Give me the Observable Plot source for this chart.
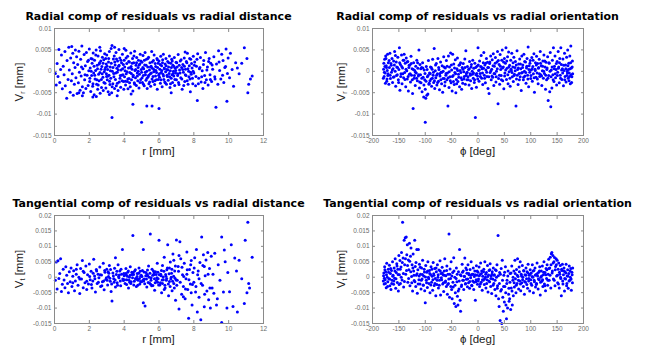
<!DOCTYPE html>
<html><head><meta charset="utf-8">
<script src="https://cdn.jsdelivr.net/npm/d3@7"></script>
<script src="https://cdn.jsdelivr.net/npm/@observablehq/plot@0.6"></script>
<style>
body{margin:0;background:#fff;}
#wrap{position:relative;width:645px;height:346px;overflow:hidden;font-family:"Liberation Sans",Arial,sans-serif;}
.panel{position:absolute;}
.title{position:absolute;font-family:"DejaVu Sans",sans-serif;font-weight:bold;font-size:11px;line-height:11px;color:#000;white-space:nowrap;transform:translateX(-50%);}
.xlab{position:absolute;font-size:11.5px;line-height:12px;color:#222;white-space:nowrap;transform:translate(-50%,-50%);}
.ylab{position:absolute;font-size:11.5px;line-height:12px;color:#222;white-space:nowrap;transform:translate(-50%,-50%) rotate(-90deg);}
.ylab sub{font-size:7px;vertical-align:-2px;}
</style>
</head><body>
<div id="wrap"></div>
<script>
// ---- data: [x, residual in µm] ----
const radialVsDistance = [
[0.05,-0.5],[0.1,-3.2],[0.15,1.8],[0.2,-1.2],[0.25,5.1],[0.3,-2.6],[0.35,0.4],[0.4,3.8],[0.45,-4.1],[0.5,1.2],[0.55,-0.8],[0.6,4.6],[0.62,-3.4],[0.7,-6.3],[0.72,2.5],[0.78,-1.9],[0.82,5.6],[0.85,0.3],[0.9,-4.9],[0.93,3.1],[0.97,-2.2],[0.99,5.8],
[1.02,-0.6],[1.05,4.2],[1.08,-5.6],[1.1,2.0],[1.14,-3.0],[1.18,0.9],[1.2,5.0],[1.23,-1.5],[1.27,3.4],[1.3,-5.2],[1.33,1.6],[1.37,-2.7],[1.4,4.7],[1.43,-0.2],[1.47,-4.4],[1.5,2.8],[1.53,-1.1],[1.57,5.9],[1.6,-3.6],[1.63,0.6],[1.66,-5.0],[1.7,3.9],[1.73,-2.0],[1.77,1.3],[1.8,-4.0],[1.83,4.4],[1.87,-0.9],[1.9,2.3],[1.93,-3.3],[1.97,0.1],
[2.0,5.2],[2.02,-2.4],[2.05,0.8],[2.08,-4.7],[2.1,3.0],[2.13,-1.0],[2.16,1.9],[2.19,-3.5],[2.22,4.3],[2.25,-0.4],[2.28,-5.5],[2.3,2.6],[2.33,-1.8],[2.36,0.2],[2.39,5.0],[2.42,-3.0],[2.45,1.4],[2.48,-4.2],[2.5,3.6],[2.53,-0.7],[2.56,-2.2],[2.59,2.0],[2.62,-5.1],[2.64,4.8],[2.67,0.5],[2.7,-3.8],[2.72,1.1],[2.75,3.3],[2.78,-1.4],[2.8,-4.5],[2.83,2.7],[2.86,-0.1],[2.88,4.1],[2.9,-2.8],[2.93,0.9],[2.95,-3.9],[2.97,1.7],[2.99,-1.2],[2.4,-5.9],[2.6,5.6],
[3.0,3.8],[3.03,-2.0],[3.05,0.4],[3.08,-4.8],[3.1,2.2],[3.13,-0.9],[3.15,4.6],[3.18,-3.1],[3.2,1.0],[3.23,-1.6],[3.25,5.3],[3.28,-5.0],[3.3,6.0],[3.32,0.0],[3.35,-2.9],[3.38,2.9],[3.4,-0.5],[3.43,3.6],[3.45,-4.0],[3.48,1.5],[3.5,-1.9],[3.53,4.4],[3.55,-3.4],[3.58,0.7],[3.6,-0.2],[3.62,2.4],[3.65,-4.5],[3.68,1.2],[3.7,5.1],[3.72,-2.5],[3.75,3.1],[3.78,-1.0],[3.8,-3.7],[3.82,0.3],[3.85,2.0],[3.88,-2.2],[3.9,4.0],[3.93,-0.8],[3.95,1.6],[3.98,-4.2],[3.45,5.6],[3.15,-5.4],
[4.0,2.6],[4.02,-1.3],[4.05,0.1],[4.08,-3.2],[4.1,4.9],[4.12,-0.6],[4.15,1.8],[4.18,-2.4],[4.2,3.5],[4.22,-4.1],[4.25,0.8],[4.28,-1.7],[4.3,2.2],[4.32,-0.3],[4.35,-3.6],[4.38,4.3],[4.4,1.1],[4.42,-2.0],[4.45,0.5],[4.48,3.0],[4.5,-4.6],[4.52,-0.9],[4.55,2.0],[4.58,-2.7],[4.6,4.7],[4.62,0.2],[4.65,-1.5],[4.68,1.4],[4.7,-3.3],[4.72,3.2],[4.75,-0.4],[4.78,-2.2],[4.8,0.9],[4.82,2.6],[4.85,-3.9],[4.88,-0.7],[4.9,1.7],[4.92,4.0],[4.95,-1.9],[4.98,0.4],[4.0,5.3],[4.4,-5.3],
[5.0,-0.2],[5.02,2.1],[5.05,-2.6],[5.08,3.7],[5.1,-1.0],[5.12,0.6],[5.15,-3.4],[5.18,1.5],[5.2,4.4],[5.22,-0.8],[5.25,-2.1],[5.28,2.8],[5.3,0.0],[5.32,-4.0],[5.35,1.0],[5.38,-1.3],[5.4,3.3],[5.42,-2.9],[5.45,0.3],[5.48,2.0],[5.5,-0.6],[5.52,-3.5],[5.55,1.2],[5.58,4.6],[5.6,-1.8],[5.62,0.7],[5.65,-2.4],[5.68,2.5],[5.7,-0.1],[5.72,3.8],[5.75,-3.1],[5.78,1.8],[5.8,-1.1],[5.82,0.2],[5.85,-2.0],[5.88,3.0],[5.9,-4.2],[5.92,0.9],[5.95,1.9],[5.98,-0.9],
[6.0,2.4],[6.03,-1.4],[6.05,0.5],[6.08,-2.8],[6.1,3.5],[6.13,-0.3],[6.15,1.3],[6.18,-3.6],[6.2,2.0],[6.23,-0.7],[6.25,4.0],[6.28,-1.9],[6.3,0.8],[6.33,-2.5],[6.35,1.7],[6.38,-0.1],[6.4,3.0],[6.43,-3.0],[6.45,0.4],[6.48,-1.2],[6.5,2.3],[6.53,-2.1],[6.55,1.0],[6.58,-0.5],[6.6,3.6],[6.63,-3.8],[6.65,0.1],[6.68,1.9],[6.7,-1.6],[6.73,2.8],[6.75,-0.8],[6.78,-2.6],[6.8,1.4],[6.83,0.0],[6.85,-1.1],[6.88,3.2],[6.9,-3.3],[6.93,0.7],[6.95,-0.4],[6.98,2.1],
[7.0,-2.0],[7.04,1.0],[7.08,-0.6],[7.1,3.9],[7.15,-3.1],[7.18,0.3],[7.22,2.4],[7.25,-1.5],[7.3,0.9],[7.33,-4.2],[7.37,1.6],[7.4,-0.2],[7.45,3.1],[7.48,-2.4],[7.52,0.5],[7.55,-1.0],[7.6,2.0],[7.63,4.2],[7.67,-3.0],[7.7,0.0],[7.74,1.3],[7.78,-1.8],[7.82,2.8],[7.85,-0.7],[7.9,0.8],[7.94,-2.9],[7.97,3.5],[7.5,4.5],
[8.0,-0.4],[8.05,2.2],[8.1,-3.4],[8.15,1.2],[8.2,-6.8],[8.22,4.1],[8.28,-1.6],[8.32,0.6],[8.38,3.2],[8.42,-2.5],[8.48,0.1],[8.52,-4.0],[8.57,2.5],[8.62,-1.0],[8.67,4.4],[8.72,-2.0],[8.78,1.0],[8.82,-3.2],[8.88,3.0],[8.93,-0.8],[8.97,1.9],
[9.02,-2.4],[9.08,0.5],[9.15,3.4],[9.2,-1.3],[9.27,-8.4],[9.3,1.7],[9.38,-3.0],[9.42,4.8],[9.48,0.2],[9.55,-1.8],[9.6,4.0],[9.68,2.5],[9.72,-2.6],[9.78,0.9],[9.85,5.2],[9.9,-7.0],[9.93,-0.5],[9.97,3.1],
[10.05,-1.5],[10.1,4.2],[10.2,0.4],[10.28,-3.5],[10.4,2.0],[10.5,0.8],[10.6,-0.6],[10.9,5.5],[11.05,3.0],[11.1,-5.0],[11.15,-3.0],[11.25,-1.8],[11.35,-1.1],[10.75,1.9],
[3.3,-10.8],[5.0,-11.9],[4.5,-7.7],[5.3,-8.1],[5.6,-8.1],[6.0,-8.7],[1.6,-5.7],[2.2,-6.0],[3.6,-5.7],[6.7,-5.0],[7.8,-4.8],[1.4,-5.0],
[1.55,1.0],[1.75,-0.8],[1.95,2.6],[2.03,-1.6],[2.11,0.0],[2.17,2.9],[2.21,-2.9],[2.27,1.2],[2.31,-0.9],[2.37,3.8],[2.43,-2.0],[2.47,0.6],[2.51,-3.2],[2.57,1.7],[2.61,-0.3],[2.66,2.4],[2.69,-1.9],[2.74,-0.6],[2.79,1.9],[2.84,-2.6],[2.89,0.4],[2.94,3.0],[2.98,-0.6],
[3.02,1.2],[3.07,-1.1],[3.11,3.0],[3.16,-2.3],[3.21,0.1],[3.26,1.9],[3.31,-3.6],[3.36,0.9],[3.41,-1.3],[3.46,2.2],[3.51,-0.4],[3.56,2.9],[3.61,-2.8],[3.66,0.3],[3.71,1.4],[3.76,-1.6],[3.81,2.6],[3.86,-0.9],[3.91,0.6],[3.96,-2.4],
[4.03,1.0],[4.07,-2.3],[4.11,3.1],[4.16,-0.1],[4.21,-1.8],[4.26,2.3],[4.31,-2.7],[4.36,0.9],[4.41,-0.5],[4.46,1.9],[4.51,-1.3],[4.56,3.6],[4.61,-3.0],[4.66,0.4],[4.71,2.0],[4.76,-1.1],[4.81,0.0],[4.86,1.5],[4.91,-2.6],[4.96,2.4],
[5.03,-1.5],[5.07,0.9],[5.11,-3.0],[5.16,2.6],[5.21,-0.2],[5.26,1.4],[5.31,-1.6],[5.36,3.0],[5.41,-0.9],[5.46,-2.5],[5.51,1.0],[5.56,-0.4],[5.61,2.2],[5.66,-1.2],[5.71,0.4],[5.76,-2.2],[5.81,1.1],[5.86,-0.3],[5.91,2.7],[5.96,-1.9],
[6.02,-0.6],[6.07,1.6],[6.11,-2.0],[6.16,0.2],[6.21,2.7],[6.26,-1.1],[6.31,0.6],[6.36,-2.7],[6.41,1.3],[6.46,-0.9],[6.51,0.3],[6.56,2.0],[6.61,-1.3],[6.66,-2.9],[6.71,0.9],[6.76,2.4],[6.81,-0.5],[6.86,1.1],[6.91,-1.9],[6.96,0.2],
[7.02,2.0],[7.07,-1.0],[7.12,-2.6],[7.16,1.4],[7.21,-0.4],[7.27,2.7],[7.31,-1.8],[7.36,0.4],[7.42,-3.3],[7.46,1.2],[7.51,-0.8],[7.57,2.3],[7.62,-2.2],[7.66,0.6],[7.72,-1.3],[7.76,3.0],[7.81,-0.2],[7.87,1.8],[7.92,-1.6],[7.96,0.0],
[8.03,1.4],[8.12,-1.2],[8.18,2.8],[8.26,-2.9],[8.35,0.9],[8.45,-1.3],[8.55,1.6],[8.64,-2.6],[8.75,0.3],[8.85,2.3],[8.95,-1.9],[9.05,1.5],[9.22,-1.8],[9.45,2.2],[9.65,-0.9],[9.82,1.1]
];
const radialVsOrientation = [
[-179,0.5],[-178,-1.2],[-177,2.8],[-176,-0.4],[-175,3.6],[-174,1.3],[-173,-2.3],[-172,0.2],[-171,-1.0],[-170,2.0],
[-169,-3.0],[-168,0.9],[-167,4.2],[-166,-1.7],[-165,1.8],[-164,-0.2],[-163,3.0],[-162,-2.6],[-161,0.6],[-160,2.4],
[-159,-1.3],[-158,4.6],[-157,0.0],[-156,-3.5],[-155,2.2],[-154,1.0],[-153,-0.8],[-152,3.3],[-151,-2.0],[-150,0.4],
[-149,5.5],[-148,-4.4],[-147,1.6],[-146,-0.6],[-145,3.8],[-144,-2.9],[-143,0.8],[-142,2.6],[-141,-1.5],[-140,4.0],
[-139,-0.3],[-138,1.9],[-137,-3.6],[-136,3.1],[-135,0.1],[-134,-1.8],[-133,2.3],[-132,-4.6],[-131,0.9],[-130,-0.7],
[-129,1.5],[-128,-2.5],[-127,3.5],[-126,-0.9],[-125,0.6],[-124,-5.2],[-123,-8.7],[-122,2.0],[-121,-1.6],[-120,0.2],
[-119,-3.3],[-118,1.2],[-117,-0.4],[-116,2.6],[-115,-2.2],[-114,0.7],[-113,-1.1],[-112,5.0],[-111,-3.9],[-110,1.6],
[-109,-0.8],[-108,-2.7],[-107,0.9],[-106,-4.8],[-105,2.0],[-104,-1.4],[-103,-6.0],[-102,0.3],[-101,-2.0],[-100,-11.9],[-100,-4.2],
[-99,-6.3],[-98,1.1],[-97,-5.6],[-96,-1.3],[-95,-5.3],[-94,2.5],[-93,-3.0],[-92,-0.4],[-91,-2.2],[-90,1.0],
[-89,-1.8],[-88,-3.5],[-87,0.5],[-86,2.8],[-85,-0.9],[-84,-2.6],[-83,5.3],[-82,-4.0],[-81,0.1],[-80,-1.5],
[-79,1.8],[-78,-3.2],[-77,-0.6],[-76,3.0],[-75,-2.3],[-74,0.4],[-73,-4.3],[-72,-1.1],[-71,2.2],[-70,-0.2],
[-69,-2.9],[-68,1.3],[-67,-4.9],[-66,0.0],[-65,3.4],[-64,-1.7],[-63,-3.4],[-62,0.8],[-61,-0.9],[-60,2.5],
[-59,-2.0],[-58,-0.4],[-57,-8.1],[-56,3.6],[-55,-3.8],[-54,1.0],[-53,-1.3],[-52,4.3],[-51,-2.7],[-50,0.3],
[-49,-4.6],[-48,4.0],[-47,-1.0],[-46,1.7],[-45,-3.1],[-44,-0.3],[-43,2.7],[-42,-5.0],[-41,-1.9],[-40,0.6],
[-39,3.1],[-38,-2.4],[-37,-0.7],[-36,1.4],[-35,-3.6],[-34,0.2],[-33,2.0],[-32,-1.5],[-31,-4.2],[-30,0.9],
[-29,-2.8],[-28,1.8],[-27,-0.1],[-26,-1.2],[-25,2.9],[-24,-3.0],[-23,4.8],[-22,-0.5],[-21,-2.0],[-20,1.1],
[-19,-1.3],[-18,0.4],[-17,-3.2],[-16,2.3],[-15,-0.6],[-14,-2.2],[-13,1.0],[-12,-4.0],[-11,0.0],[-10,2.6],
[-9,-1.6],[-8,0.7],[-7,-2.6],[-6,1.9],[-5,-10.8],[-4,-0.8],[-3,-3.7],[-2,1.2],[-1,-1.1],[0,5.5],
[1,0.2],[2,-2.3],[3,2.4],[4,-0.5],[5,1.1],[6,3.7],[7,-1.6],[8,0.6],[9,-3.1],[10,2.0],
[11,4.4],[12,-0.9],[13,1.5],[14,-2.7],[15,0.3],[16,3.0],[17,-1.2],[18,2.1],[19,-4.0],[20,0.9],
[21,-5.2],[22,1.8],[23,-0.3],[24,3.6],[25,-2.0],[26,0.5],[27,2.7],[28,-1.4],[29,4.1],[30,-3.3],
[31,1.2],[32,-0.6],[33,3.2],[34,-2.5],[35,0.0],[36,2.2],[37,4.6],[38,-7.6],[39,-1.7],[40,1.6],
[41,-3.0],[42,3.9],[43,0.4],[44,-1.0],[45,2.6],[46,5.0],[47,-2.2],[48,1.0],[49,-4.1],[50,3.0],
[51,-0.4],[52,1.9],[53,5.5],[54,-1.9],[55,0.7],[56,3.4],[57,-2.9],[58,4.5],[59,-0.1],[60,1.4],
[61,-3.5],[62,2.6],[63,0.2],[64,4.2],[65,-1.3],[66,1.0],[67,-2.4],[68,3.3],[69,-0.7],[70,0.9],
[71,2.3],[72,-8.1],[73,-1.8],[74,4.8],[75,0.4],[76,-3.1],[77,1.7],[78,-0.5],[79,2.9],[80,-1.3],
[81,0.6],[82,-4.5],[83,3.6],[84,-0.3],[85,1.5],[86,-2.0],[87,4.0],[88,0.0],[89,-1.1],[90,2.2],
[91,-2.8],[92,0.8],[93,3.0],[94,-0.9],[95,5.7],[96,-3.6],[97,1.3],[98,-0.2],[99,2.5],[100,-1.7],
[101,0.3],[102,3.2],[103,-2.3],[104,1.1],[105,-0.6],[106,4.1],[107,-4.9],[108,0.5],[109,2.0],[110,-1.4],
[111,3.5],[112,-0.4],[113,1.8],[114,-2.9],[115,0.9],[116,2.8],[117,-1.2],[118,4.6],[119,-0.8],[120,1.3],
[121,-3.3],[122,0.1],[123,2.4],[124,-1.6],[125,3.8],[126,-0.5],[127,1.0],[128,-4.2],[129,2.1],[130,-2.0],
[131,0.8],[132,3.4],[133,-6.8],[134,-1.0],[135,1.9],[136,-4.8],[137,4.4],[138,-8.3],[139,0.3],[140,-3.9],
[141,2.6],[142,-0.8],[143,5.5],[144,-2.4],[145,1.2],[146,3.6],[147,-1.5],[148,0.4],[149,-3.2],[150,2.3],
[151,-0.2],[152,4.6],[153,1.0],[154,-2.7],[155,3.0],[156,-0.9],[157,5.5],[158,1.6],[159,-1.9],[160,0.6],
[161,2.9],[162,-3.4],[163,0.2],[164,4.2],[165,-1.2],[166,1.5],[167,-2.5],[168,3.3],[169,0.0],[170,5.0],
[171,-1.6],[172,1.9],[173,-0.4],[174,3.6],[175,-2.9],[176,5.9],[177,0.8],[178,-1.3],[179,2.4],[179.5,-0.6],
[-179.5,-1.6],[-178.5,1.9],[-177.5,-0.2],[-176.5,1.1],[-175.5,-2.8],[-174.5,3.0],[-173.5,0.9],[-172.5,-1.8],[-171.5,4.0],[-170.5,-0.6],
[-168.5,2.5],[-166.5,-0.9],[-164.5,1.4],[-162.5,0.3],[-160.5,-1.4],[-158.5,1.5],[-156.5,3.7],[-154.5,-1.0],[-152.5,0.9],[-150.5,-2.6],
[-148.5,2.0],[-146.5,-1.2],[-144.5,1.1],[-142.5,-0.6],[-140.5,2.6],[-138.5,-1.9],[-136.5,0.5],[-134.5,2.2],[-132.5,-1.2],[-130.5,1.4],
[-128.5,-0.6],[-126.5,1.8],[-124.5,-2.0],[-122.5,0.4],[-120.5,-1.0],[-118.5,-0.2],[-116.5,-1.6],[-114.5,2.0],[-112.5,-0.8],[-110.5,-2.5],
[-108.5,0.6],[-106.5,-1.6],[-104.5,0.8],[-102.5,-3.2],[-100.5,-0.5],[-98.5,-2.3],[-96.5,0.4],[-94.5,-1.0],[-92.5,-2.8],[-90.5,-0.6],
[-88.5,0.9],[-86.5,-1.6],[-84.5,-0.2],[-82.5,-2.2],[-80.5,1.5],[-78.5,-0.9],[-76.5,-2.6],[-74.5,0.9],[-72.5,-0.6],[-70.5,-2.0],
[-68.5,-0.2],[-66.5,-1.7],[-64.5,1.0],[-62.5,-2.5],[-60.5,-0.5],[-58.5,1.2],[-56.5,-1.5],[-54.5,-0.1],[-52.5,-2.2],[-50.5,1.5],
[-48.5,-1.2],[-46.5,-2.4],[-44.5,0.8],[-42.5,-0.6],[-40.5,-2.9],[-38.5,0.2],[-36.5,-1.4],[-34.5,1.6],[-32.5,-0.3],[-30.5,-2.0],
[-28.5,0.5],[-26.5,-1.8],[-24.5,0.9],[-22.5,-1.0],[-20.5,-0.2],[-18.5,-2.0],[-16.5,0.6],[-14.5,-0.9],[-12.5,1.6],[-10.5,-0.7],
[-8.5,-0.4],[-6.5,-2.0],[-4.5,0.9],[-2.5,-0.5],[-0.5,-1.8],[0.5,1.5],[2.5,0.3],[4.5,-1.2],[6.5,1.0],[8.5,-0.4],
[10.5,0.7],[12.5,-1.6],[14.5,1.9],[16.5,-0.2],[18.5,0.9],[20.5,-1.3],[22.5,2.2],[24.5,0.1],[26.5,-1.1],[28.5,1.3],
[30.5,-0.5],[32.5,1.9],[34.5,-1.3],[36.5,0.6],[38.5,2.5],[40.5,-0.9],[42.5,1.2],[44.5,-2.0],[46.5,0.8],[48.5,2.2],
[50.5,-1.1],[52.5,0.3],[54.5,2.4],[56.5,-0.8],[58.5,1.0],[60.5,-1.6],[62.5,0.5],[64.5,-0.3],[66.5,2.0],[68.5,-1.0],
[70.5,0.1],[72.5,1.5],[74.5,-0.9],[76.5,0.8],[78.5,-2.0],[80.5,1.7],[82.5,-0.4],[84.5,0.9],[86.5,-1.4],[88.5,2.3],
[90.5,-0.3],[92.5,1.2],[94.5,-1.8],[96.5,0.4],[98.5,1.9],[100.5,-1.0],[102.5,0.6],[104.5,2.6],[106.5,-1.5],[108.5,0.2],
[110.5,1.5],[112.5,-1.8],[114.5,0.7],[116.5,-0.6],[118.5,1.9],[120.5,-1.1],[122.5,1.2],[124.5,0.0],[126.5,2.4],[128.5,-0.9],
[130.5,0.4],[132.5,-1.6],[134.5,2.0],[136.5,0.0],[138.5,-1.3],[140.5,1.0],[142.5,-2.0],[144.5,0.6],[146.5,-0.6],[148.5,1.8],
[150.5,-1.0],[152.5,0.7],[154.5,2.0],[156.5,-1.6],[158.5,0.3],[160.5,-0.4],[162.5,1.4],[164.5,-2.0],[166.5,0.6],[168.5,-1.0],
[170.5,1.3],[172.5,-2.2],[174.5,0.6],[176.5,-0.8],[178.5,1.0],[177.5,-2.6],[175.5,2.0],[173.5,-1.2],[171.5,0.4],[169.5,-0.4]
];
const tangentialVsDistance = [
[0.05,-1.0],[0.1,4.9],[0.15,-3.8],[0.2,5.3],[0.25,-0.4],[0.3,1.2],[0.35,6.0],[0.4,-4.6],[0.45,-2.3],[0.5,2.6],[0.55,-0.9],[0.6,-3.4],[0.65,3.4],[0.7,0.6],[0.75,-2.0],[0.8,-5.0],[0.85,1.8],[0.9,-1.5],[0.95,3.0],
[1.0,-3.0],[1.05,0.3],[1.1,2.1],[1.15,-4.4],[1.2,-1.2],[1.25,1.0],[1.3,4.0],[1.35,-2.6],[1.4,0.0],[1.45,-5.3],[1.5,2.8],[1.55,-0.6],[1.6,5.4],[1.65,-3.4],[1.7,1.5],[1.75,-1.8],[1.8,3.6],[1.85,-4.0],[1.9,0.8],[1.95,-2.2],
[2.0,4.3],[2.05,-0.8],[2.1,1.9],[2.15,-3.5],[2.2,-1.2],[2.25,5.8],[2.3,0.4],[2.35,-4.8],[2.4,2.5],[2.45,-2.0],[2.5,1.0],[2.55,-0.2],[2.6,3.3],[2.65,-3.0],[2.7,0.7],[2.75,-1.5],[2.8,4.5],[2.85,-4.1],[2.9,1.6],[2.95,-0.7],[2.82,-1.2],
[3.0,2.6],[3.05,-2.5],[3.1,0.2],[3.15,3.8],[3.2,-1.3],[3.25,-4.6],[3.3,-7.7],[3.35,1.4],[3.4,-0.5],[3.45,2.9],[3.5,-3.2],[3.55,0.9],[3.6,-1.8],[3.65,4.0],[3.7,-0.2],[3.75,2.0],[3.8,-2.8],[3.85,1.0],[3.9,9.0],[3.95,-1.1],[3.5,6.3],[3.72,0.7],[3.42,-1.6],[3.12,1.3],
[4.0,0.5],[4.05,-2.0],[4.1,2.8],[4.15,-0.8],[4.2,1.6],[4.25,-3.5],[4.3,0.0],[4.35,3.4],[4.4,-1.5],[4.45,0.9],[4.5,13.5],[4.55,-2.5],[4.6,2.0],[4.65,-0.4],[4.7,-3.0],[4.75,1.2],[4.8,-1.0],[4.85,3.0],[4.9,-2.2],[4.95,0.3],[4.12,0.8],[4.32,-1.6],[4.52,1.5],[4.72,-0.5],[4.92,1.9],
[5.0,-1.5],[5.05,2.2],[5.1,9.0],[5.15,-0.6],[5.2,-9.3],[5.25,1.5],[5.3,-3.2],[5.35,0.5],[5.4,3.6],[5.45,-1.9],[5.5,14.0],[5.55,-0.2],[5.6,2.6],[5.65,-2.7],[5.7,0.8],[5.75,-4.2],[5.8,1.8],[5.85,-1.1],[5.9,4.5],[5.95,-0.5],[5.1,-8.3],[5.12,-1.2],[5.32,0.9],[5.52,-2.3],[5.72,1.4],[5.92,-1.6],
[6.0,12.0],[6.05,-2.5],[6.1,1.0],[6.15,-5.0],[6.2,3.8],[6.25,-0.8],[6.3,6.5],[6.35,-3.5],[6.4,0.3],[6.45,2.4],[6.5,10.5],[6.55,-6.0],[6.6,-1.4],[6.65,4.9],[6.7,0.0],[6.75,-4.4],[6.8,7.5],[6.85,-2.0],[6.9,2.0],[6.95,-7.5],[6.3,-4.0],[6.6,3.0],[6.85,5.5],[6.2,-2.0],[6.12,0.5],[6.42,-1.0],[6.72,1.3],[6.92,-0.3],
[7.0,12.1],[7.05,-1.0],[7.1,3.5],[7.15,-10.3],[7.2,11.5],[7.25,6.0],[7.3,-5.5],[7.35,0.8],[7.4,-3.0],[7.45,4.5],[7.5,-7.0],[7.55,-0.5],[7.6,8.2],[7.65,-4.0],[7.7,-13.3],[7.75,2.5],[7.8,-2.2],[7.85,5.4],[7.9,-9.0],[7.95,1.5],[7.15,7.0],[7.4,-6.3],[7.6,1.0],[7.85,-5.0],
[8.0,-1.6],[8.05,6.3],[8.1,-4.8],[8.15,9.0],[8.2,-11.3],[8.25,2.0],[8.3,-6.5],[8.35,4.8],[8.4,-13.8],[8.45,13.0],[8.5,-2.6],[8.55,7.3],[8.6,-9.6],[8.65,0.5],[8.7,5.6],[8.75,-4.5],[8.8,8.0],[8.85,-7.3],[8.9,2.8],[8.95,-10.0],[8.3,-0.5],[8.6,3.5],
[9.0,6.8],[9.05,-3.5],[9.1,1.0],[9.15,-5.2],[9.2,7.8],[9.3,-9.0],[9.4,4.0],[9.5,-1.0],[9.6,13.0],[9.6,-14.7],[9.7,-4.8],[9.8,5.0],[9.9,-10.0],[9.95,1.5],[9.35,-7.0],[9.75,8.8],
[10.05,-4.7],[10.15,10.5],[10.25,-9.5],[10.35,6.2],[10.5,-11.3],[10.6,5.5],[10.75,-0.5],[10.9,-8.5],[10.95,12.0],[11.05,-5.0],[11.1,17.8],[11.15,-2.0],[11.2,-3.5],[11.35,6.5],[10.45,2.0],
[1.05,-1.8],[1.25,2.6],[1.45,-0.6],[1.65,1.9],[1.85,-1.3],[2.02,0.2],[2.12,-2.4],[2.22,1.3],[2.32,-0.5],[2.42,2.0],[2.52,-1.6],[2.62,0.8],[2.72,-2.8],[2.88,2.2],[2.98,-0.2],
[3.02,-1.0],[3.08,1.8],[3.18,-0.3],[3.22,2.5],[3.28,-2.2],[3.38,0.4],[3.48,-0.9],[3.58,1.9],[3.62,-2.6],[3.68,0.2],[3.78,-1.2],[3.82,2.6],[3.92,-0.6],[3.98,1.2],
[4.02,-0.8],[4.08,1.2],[4.14,-2.4],[4.18,0.3],[4.24,2.0],[4.28,-1.0],[4.34,0.6],[4.38,-2.0],[4.44,1.6],[4.48,-0.2],[4.54,0.9],[4.58,-1.3],[4.64,2.4],[4.68,-0.7],[4.74,0.2],[4.78,-2.6],[4.84,1.3],[4.88,-0.4],[4.94,-1.4],[4.98,0.6],
[5.02,0.2],[5.08,-0.9],[5.14,1.7],[5.18,-2.1],[5.24,0.5],[5.28,-0.6],[5.34,2.3],[5.38,-1.7],[5.44,0.0],[5.48,1.3],[5.54,-1.0],[5.58,-2.8],[5.64,0.6],[5.68,2.0],[5.74,-0.5],[5.78,-1.8],[5.84,0.9],[5.88,-0.2],[5.94,1.6],[5.98,-2.5],
[6.02,0.8],[6.08,-1.8],[6.14,2.2],[6.18,-0.9],[6.24,0.1],[6.28,1.9],[6.34,-2.6],[6.38,0.9],[6.44,-0.4],[6.48,3.0],[6.54,-2.2],[6.58,1.1],[6.64,-3.0],[6.68,-0.6],[6.74,2.6],[6.78,-1.3],[6.84,0.3],[6.88,-3.5],[6.94,3.6],[6.98,-0.9],
[7.02,-2.6],[7.12,1.9],[7.22,-1.6],[7.32,3.2],[7.42,0.2],[7.52,-3.8],[7.62,2.4],[7.72,-0.8],[7.82,4.0],[7.92,-2.4],[8.02,3.0],[8.12,-3.0],[8.22,0.8],[8.42,-2.0],[8.52,3.8],[8.62,-5.5],[8.82,1.0],[8.92,-3.5]
];
const tangentialVsOrientation = [
[-179,0.5],[-178,-2.2],[-177,3.4],[-176,-0.8],[-175,1.8],[-174,-3.4],[-173,4.5],[-172,0.0],[-171,-1.5],[-170,2.6],
[-169,-0.5],[-168,3.9],[-167,-2.8],[-166,1.2],[-165,-4.0],[-164,2.2],[-163,-1.0],[-162,5.0],[-161,0.6],[-160,-2.3],
[-159,3.0],[-158,-0.3],[-157,6.0],[-156,-3.6],[-155,1.5],[-154,4.4],[-153,-1.7],[-152,2.6],[-151,-4.5],[-150,7.0],
[-149,0.8],[-148,5.4],[-147,-2.0],[-146,3.3],[-145,8.0],[-144,-0.9],[-143,17.8],[-142,6.2],[-141,-3.2],[-140,12.0],
[-139,4.0],[-138,12.8],[-137,1.0],[-136,13.0],[-135,7.3],[-134,10.5],[-133,-1.6],[-132,5.6],[-131,2.4],[-130,11.0],
[-129,-2.8],[-128,6.8],[-127,9.5],[-126,0.2],[-125,4.0],[-124,-4.5],[-123,7.5],[-122,2.0],[-121,-1.1],[-120,12.0],
[-119,3.5],[-118,-3.0],[-117,0.6],[-116,9.0],[-115,-5.2],[-114,2.4],[-113,9.0],[-112,-0.8],[-111,4.2],[-110,-2.2],
[-109,1.0],[-108,-3.8],[-107,3.0],[-106,-0.6],[-105,5.5],[-104,-2.5],[-103,0.4],[-102,2.6],[-101,-4.4],[-100,-8.3],
[-99,3.8],[-98,-1.0],[-97,1.6],[-96,-3.3],[-95,5.0],[-94,0.0],[-93,-2.0],[-92,2.2],[-91,-5.0],[-90,0.9],
[-89,3.4],[-88,-1.6],[-87,0.3],[-86,-4.2],[-85,4.8],[-84,1.1],[-83,-2.7],[-82,2.8],[-81,-0.4],[-80,-6.0],
[-79,1.8],[-78,-2.4],[-77,4.0],[-76,0.0],[-75,-3.5],[-74,2.3],[-73,-1.0],[-72,5.3],[-71,-5.8],[-70,1.2],
[-69,-0.8],[-68,3.2],[-67,-2.2],[-66,0.7],[-65,-4.6],[-64,2.0],[-63,6.0],[-62,-1.6],[-61,0.5],[-60,-3.0],
[-59,3.6],[-58,-5.5],[-57,1.0],[-56,-2.0],[-55,14.0],[-54,-6.5],[-53,2.7],[-52,-0.4],[-51,5.0],[-50,-4.0],
[-49,-7.0],[-48,1.5],[-47,-3.2],[-46,6.3],[-45,-8.5],[-44,0.0],[-43,-5.0],[-42,-9.5],[-41,3.0],[-40,-1.5],
[-39,-6.2],[-38,-9.0],[-37,1.8],[-36,-3.8],[-35,9.0],[-34,-7.5],[-33,-11.0],[-32,0.5],[-31,-2.5],[-30,4.2],
[-29,-1.0],[-28,2.0],[-27,-4.0],[-26,0.3],[-25,6.2],[-24,-2.2],[-23,3.0],[-22,-0.7],[-21,1.3],[-20,-3.1],
[-19,4.0],[-18,-1.8],[-17,0.8],[-16,-3.6],[-15,2.5],[-14,-0.2],[-13,5.0],[-12,-2.6],[-11,1.0],[-10,-1.2],
[-9,3.0],[-8,-4.0],[-7,0.2],[-6,2.0],[-5,-7.5],[-4,-1.5],[-3,3.7],[-2,0.6],[-1,-2.3],[0,1.6],
[1,-0.6],[2,3.3],[3,-3.0],[4,0.9],[5,4.6],[6,-1.6],[7,2.0],[8,-4.2],[9,0.3],[10,-1.0],
[11,2.6],[12,-2.4],[13,5.0],[14,0.0],[15,-3.5],[16,1.5],[17,-0.8],[18,3.8],[19,-4.8],[20,0.7],
[21,2.2],[22,-1.5],[23,4.4],[24,-3.0],[25,0.4],[26,-5.3],[27,1.8],[28,-0.6],[29,3.0],[30,-2.0],
[31,0.8],[32,-4.0],[33,2.4],[34,-6.0],[35,0.0],[36,4.0],[37,-2.8],[38,13.5],[39,-7.0],[40,-9.5],
[41,1.5],[42,-14.0],[43,-4.5],[44,2.8],[45,-15.0],[46,5.5],[47,-6.5],[48,-11.0],[49,0.6],[50,-8.0],
[51,-3.0],[52,3.4],[53,-9.0],[54,-13.5],[55,-1.0],[56,-10.0],[57,2.0],[58,-5.5],[59,-7.8],[60,-7.0],
[61,1.2],[62,-10.5],[63,-3.5],[64,3.6],[65,-9.0],[66,-1.0],[67,-6.0],[68,2.0],[69,-3.2],[70,5.5],
[71,-0.5],[72,-5.0],[73,2.5],[74,-2.0],[75,6.0],[76,0.2],[77,-3.8],[78,3.3],[79,-1.2],[80,5.0],
[81,-4.4],[82,1.0],[83,-1.8],[84,3.8],[85,0.0],[86,-3.0],[87,2.0],[88,-5.5],[89,0.8],[90,-1.6],
[91,3.0],[92,-0.5],[93,1.8],[94,-3.6],[95,4.2],[96,-1.2],[97,0.6],[98,-4.5],[99,2.4],[100,-0.8],
[101,1.4],[102,-2.6],[103,4.0],[104,0.0],[105,-5.0],[106,2.2],[107,-1.5],[108,3.0],[109,-3.2],[110,0.9],
[111,-2.0],[112,4.6],[113,0.4],[114,-3.8],[115,1.6],[116,-0.8],[117,3.4],[118,-5.8],[119,0.0],[120,2.0],
[121,-1.3],[122,3.6],[123,-3.0],[124,0.8],[125,5.0],[126,-2.2],[127,1.5],[128,-4.4],[129,2.8],[130,-0.4],
[131,4.0],[132,-2.6],[133,1.0],[134,5.8],[135,-1.0],[136,3.0],[137,6.5],[138,-3.5],[139,7.6],[140,8.0],
[141,2.0],[142,7.0],[143,-0.6],[144,5.0],[145,6.4],[146,-2.8],[147,3.5],[148,6.0],[149,0.4],[150,5.5],
[151,-1.8],[152,2.6],[153,4.6],[154,-3.5],[155,1.0],[156,3.8],[157,-0.4],[158,-6.0],[159,2.2],[160,4.2],
[161,-2.2],[162,0.8],[163,3.0],[164,-4.5],[165,1.8],[166,-0.6],[167,4.2],[168,-2.8],[169,0.4],[170,2.4],
[171,-3.6],[172,1.2],[173,3.6],[174,-1.0],[175,0.0],[176,2.8],[177,-4.2],[178,1.6],[179,-1.8],[179.5,3.0],
[-179.5,-1.2],[-178.5,1.4],[-177.5,-0.3],[-176.5,2.4],[-175.5,-2.0],[-173.5,0.8],[-171.5,-3.0],[-169.5,1.6],[-167.5,-0.6],[-165.5,2.8],
[-163.5,-2.0],[-161.5,0.3],[-159.5,-1.2],[-157.5,2.0],[-155.5,-0.5],[-153.5,3.6],[-151.5,0.9],[-149.5,-2.4],[-147.5,2.6],[-145.5,0.0],
[-143.5,4.8],[-141.5,1.2],[-139.5,-1.4],[-137.5,6.0],[-135.5,2.2],[-133.5,3.8],[-131.5,-0.4],[-129.5,5.2],[-127.5,1.8],[-125.5,-1.8],
[-123.5,3.0],[-121.5,0.6],[-119.5,-1.5],[-117.5,4.8],[-115.5,1.1],[-113.5,-2.2],[-111.5,0.4],[-109.5,3.2],[-107.5,-1.0],[-105.5,0.9],
[-103.5,-2.6],[-101.5,1.7],[-99.5,0.1],[-97.5,-1.8],[-95.5,2.0],[-93.5,-0.5],[-91.5,1.2],[-89.5,-2.5],[-87.5,2.6],[-85.5,-0.8],
[-83.5,0.6],[-81.5,-2.0],[-79.5,3.0],[-77.5,-1.0],[-75.5,0.8],[-73.5,-2.6],[-71.5,2.0],[-69.5,-0.2],[-67.5,1.4],[-65.5,-1.8],
[-63.5,0.6],[-61.5,-1.2],[-59.5,2.2],[-57.5,-2.4],[-55.5,-0.6],[-53.5,1.0],[-51.5,-3.0],[-49.5,0.4],[-47.5,-1.6],[-45.5,2.0],
[-43.5,-2.6],[-41.5,-0.4],[-39.5,1.0],[-37.5,-4.5],[-35.5,-1.2],[-33.5,0.8],[-31.5,-3.0],[-29.5,1.6],[-27.5,-1.0],[-25.5,0.2],
[-23.5,-2.0],[-21.5,2.4],[-19.5,-0.6],[-17.5,1.2],[-15.5,-1.4],[-13.5,0.6],[-11.5,-2.8],[-9.5,1.0],[-7.5,-1.6],[-5.5,0.8],
[-3.5,-0.8],[-1.5,2.0],[0.5,-1.2],[2.5,0.5],[4.5,-2.2],[6.5,1.2],[8.5,-0.8],[10.5,1.8],[12.5,-0.5],[14.5,1.0],
[16.5,-2.0],[18.5,0.2],[20.5,-1.2],[22.5,2.4],[24.5,-0.4],[26.5,1.0],[28.5,-2.6],[30.5,0.6],[32.5,-1.0],[34.5,2.2],
[36.5,-3.6],[38.5,0.5],[40.5,-2.0],[42.5,1.0],[44.5,-4.0],[46.5,-1.0],[48.5,-3.0],[50.5,1.6],[52.5,-5.0],[54.5,-2.0],
[56.5,0.4],[58.5,-3.6],[60.5,-1.6],[62.5,1.4],[64.5,-4.5],[66.5,0.0],[68.5,-1.8],[70.5,1.2],[72.5,-2.6],[74.5,0.6],
[76.5,-1.0],[78.5,1.8],[80.5,-2.2],[82.5,0.4],[84.5,-0.8],[86.5,2.2],[88.5,-1.4],[90.5,0.6],[92.5,-2.4],[94.5,1.4],
[96.5,-0.4],[98.5,1.0],[100.5,-2.0],[102.5,0.2],[104.5,2.0],[106.5,-1.0],[108.5,0.6],[110.5,-2.4],[112.5,1.2],[114.5,-0.6],
[116.5,2.0],[118.5,-1.6],[120.5,0.4],[122.5,-0.8],[124.5,1.6],[126.5,-2.8],[128.5,0.8],[130.5,2.4],[132.5,-1.0],[134.5,2.8],
[136.5,0.6],[138.5,4.0],[140.5,1.4],[142.5,4.6],[144.5,-1.0],[146.5,2.4],[148.5,4.0],[150.5,0.6],[152.5,-2.2],[154.5,1.6],
[156.5,0.0],[158.5,2.6],[160.5,-1.2],[162.5,2.0],[164.5,-0.4],[166.5,1.4],[168.5,-2.0],[170.5,0.4],[172.5,-1.2],[174.5,2.0],[176.5,-0.6],[178.5,0.8]
];

// ---- axes ----
const rTicks = [0, 2, 4, 6, 8, 10, 12];
const phiTicks = [-200, -150, -100, -50, 0, 50, 100, 150, 200];
const vrTicks = [-0.015, -0.01, -0.005, 0, 0.005, 0.01];
const vtTicks = [-0.015, -0.01, -0.005, 0, 0.005, 0.01, 0.015, 0.02];
const titles = [
  "Radial comp of residuals vs radial distance",
  "Radial comp of residuals vs radial orientation",
  "Tangential comp of residuals vs radial distance",
  "Tangential comp of residuals vs radial orientation"
];
const xLabels = ["r [mm]", "\u03d5 [deg]", "r [mm]", "\u03d5 [deg]"];
const yLabels = ["V<sub>r</sub> [mm]", "V<sub>r</sub> [mm]", "V<sub>t</sub> [mm]", "V<sub>t</sub> [mm]"];

const fmt = d => String(+d.toFixed(3));
const frameColor = "#8a8a8a";

function scatter(data, xTicks, yTicks, box) {
  const {width, height, left, right, top, bottom} = box;
  return Plot.plot({
    width, height,
    marginLeft: left, marginRight: right, marginTop: top, marginBottom: bottom,
    style: {fontFamily: "'Liberation Sans', Arial, sans-serif", fontSize: "6.5px", background: "transparent"},
    x: {domain: [xTicks[0], xTicks[xTicks.length - 1]]},
    y: {domain: [yTicks[0], yTicks[yTicks.length - 1]]},
    marks: [
      Plot.dot(data, {x: d => d[0], y: d => d[1] / 1000, r: 1.5, fill: "#0000ff", stroke: "none"}),
      Plot.frame({stroke: frameColor}),
      Plot.axisX(xTicks, {anchor: "bottom", tickSize: 0, tickPadding: 3, tickFormat: fmt, label: null, fill: "#6b6b6b", fontSize: 6.5}),
      Plot.axisX(xTicks, {anchor: "bottom", tickSize: -3, fill: "none", stroke: frameColor, label: null}),
      Plot.axisX(xTicks, {anchor: "top", tickSize: -3, fill: "none", stroke: frameColor, label: null}),
      Plot.axisY(yTicks, {anchor: "left", tickSize: 0, tickPadding: 3, tickFormat: fmt, label: null, fill: "#6b6b6b", fontSize: 6.5}),
      Plot.axisY(yTicks, {anchor: "left", tickSize: -3, fill: "none", stroke: frameColor, label: null}),
      Plot.axisY(yTicks, {anchor: "right", tickSize: -3, fill: "none", stroke: frameColor, label: null})
    ]
  });
}

const wrap = document.getElementById("wrap");
const panels = [
  {data: radialVsDistance, xt: rTicks, yt: vrTicks, x0: 0, y0: 0, box: {width: 322, height: 173, left: 54, right: 59, top: 28, bottom: 38}},
  {data: radialVsOrientation, xt: phiTicks, yt: vrTicks, x0: 322, y0: 0, box: {width: 323, height: 173, left: 50, right: 62, top: 28, bottom: 38}},
  {data: tangentialVsDistance, xt: rTicks, yt: vtTicks, x0: 0, y0: 173, box: {width: 322, height: 173, left: 54, right: 59, top: 42, bottom: 23}},
  {data: tangentialVsOrientation, xt: phiTicks, yt: vtTicks, x0: 322, y0: 173, box: {width: 323, height: 173, left: 50, right: 62, top: 42, bottom: 23}}
];
panels.forEach((p, i) => {
  const b = p.box;
  const holder = document.createElement("div");
  holder.className = "panel";
  holder.style.left = p.x0 + "px";
  holder.style.top = p.y0 + "px";
  holder.appendChild(scatter(p.data, p.xt, p.yt, b));
  wrap.appendChild(holder);
  const cx = p.x0 + b.left + (b.width - b.left - b.right) / 2;
  const cy = p.y0 + b.top + (b.height - b.top - b.bottom) / 2;
  const frameBottom = p.y0 + b.height - b.bottom;
  const t = document.createElement("div");
  t.className = "title";
  t.textContent = titles[i];
  t.style.left = cx + "px";
  t.style.top = (p.y0 + b.top - 17) + "px";
  wrap.appendChild(t);
  const xl = document.createElement("div");
  xl.className = "xlab";
  xl.textContent = xLabels[i];
  xl.style.left = cx + "px";
  xl.style.top = (frameBottom + 16) + "px";
  wrap.appendChild(xl);
  const yl = document.createElement("div");
  yl.className = "ylab";
  yl.innerHTML = yLabels[i];
  yl.style.left = (p.x0 + 21) + "px";
  yl.style.top = cy + "px";
  wrap.appendChild(yl);
});
</script>
</body></html>
